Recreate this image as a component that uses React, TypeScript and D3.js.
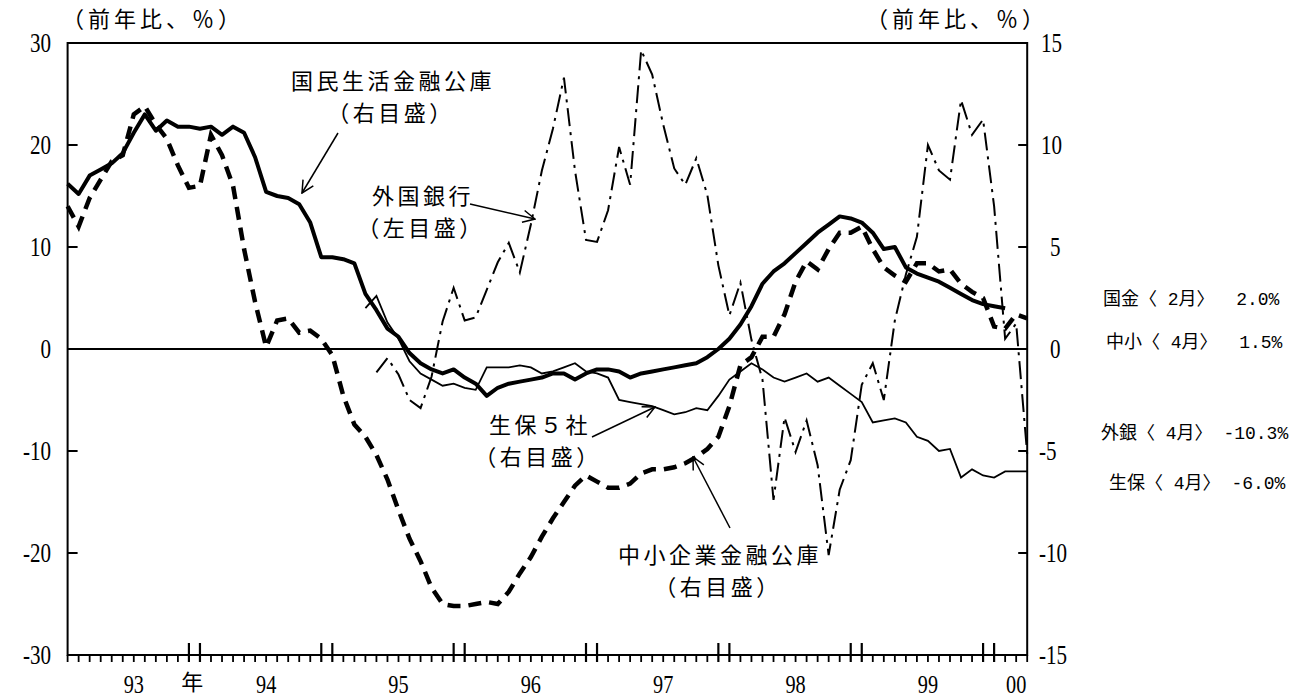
import React, { useRef, useEffect } from 'react';
import * as d3 from 'd3';

// index 0 = 1993年1月 ... index 87 = 2000年4月
const N_MONTHS = 88;

// 国民生活金融公庫 (右目盛, 前年比 %), 93/1 - 00/2
const kokumin = [
  8.1, 7.6, 8.5, 8.8, 9.1, 9.6, 10.6, 11.5, 10.7, 11.2,
  10.9, 10.9, 10.8, 10.9, 10.5, 10.9, 10.6, 9.4, 7.7, 7.5,
  7.4, 7.1, 6.2, 4.5, 4.5, 4.4, 4.2, 2.7, 1.9, 1.0,
  0.6, -0.2, -0.7, -1.0, -1.2, -1.0, -1.4, -1.7, -2.3, -1.9,
  -1.7, -1.6, -1.5, -1.4, -1.2, -1.2, -1.5, -1.2, -1.0, -1.0,
  -1.1, -1.4, -1.2, -1.1, -1.0, -0.9, -0.8, -0.7, -0.4, 0.0,
  0.5, 1.2, 2.1, 3.2, 3.8, 4.2, 4.7, 5.2, 5.7, 6.1,
  6.5, 6.4, 6.2, 5.7, 4.9, 5.0, 4.0, 3.7, 3.5, 3.3,
  3.0, 2.7, 2.4, 2.2, 2.1, 2.0
];

// 中小企業金融公庫 (右目盛), 93/1 - 00/4
const chusho = [
  7.0, 6.0, 7.4, 8.3, 9.2, 9.5, 11.5, 11.9, 11.0, 10.3,
  9.0, 7.9, 8.0, 10.5, 9.5, 8.0, 4.9, 2.3, 0.1, 1.4,
  1.5, 0.8, 0.9, 0.5, -0.3, -2.3, -3.7, -4.3, -5.2, -6.4,
  -7.9, -9.3, -10.4, -11.7, -12.5, -12.6, -12.6, -12.5, -12.4, -12.5,
  -11.9, -11.0, -10.2, -9.2, -8.3, -7.5, -6.7, -6.2, -6.5, -6.8,
  -6.8, -6.6, -6.1, -5.9, -5.9, -5.8, -5.6, -5.3, -4.9, -4.3,
  -2.8, -0.8, -0.4, 0.6, 0.6, 1.7, 3.3, 4.3, 3.9, 4.9,
  5.7, 5.7, 6.0, 4.9, 4.0, 3.6, 3.3, 4.2, 4.2, 3.8,
  3.9, 3.2, 2.8, 2.5, 1.1, 1.0, 1.7, 1.5
];

// 外国銀行 (左目盛), 95/5 - 00/4
const gaikokuStart = 28;
const gaikoku = [
  -2.3, -0.9, -2.5, -5.0, -5.8, -2.7, 2.7, 6.0, 2.8, 3.1,
  5.8, 8.5, 10.4, 7.5, 12.2, 17.5, 21.6, 26.6, 17.5, 10.7,
  10.5, 13.6, 19.8, 16.1, 29.3, 26.9, 22.0, 17.7, 16.1, 18.7,
  15.1, 8.2, 3.3, 6.5, 0.9, -3.0, -14.8, -6.7, -10.1, -7.0,
  -11.4, -20.2, -13.8, -10.9, -3.5, -1.4, -5.0, 2.8, 7.3, 11.0,
  20.0, 17.5, 16.6, 24.4, 21.0, 22.5, 14.0, 1.0, 2.5, -10.3
];

// 生保5社 (右目盛), 95/4 - 00/4
const seihoStart = 27;
const seiho = [
  2.0, 2.6, 1.3, 0.5, -0.6, -1.2, -1.5, -1.8, -1.7, -1.9,
  -2.0, -0.9, -0.9, -0.9, -0.8, -0.9, -1.2, -1.1, -0.9, -0.7,
  -1.1, -1.2, -1.4, -2.5, -2.6, -2.7, -2.8, -3.0, -3.2, -3.1,
  -2.9, -3.0, -2.3, -1.5, -1.1, -0.7, -1.0, -1.4, -1.6, -1.4,
  -1.2, -1.6, -1.4, -1.8, -2.2, -2.6, -3.6, -3.5, -3.4, -3.6,
  -4.3, -4.5, -5.0, -4.9, -6.3, -5.9, -6.2, -6.3, -6.0, -6.0,
  -6.0
];

const leftTicks = [30, 20, 10, 0, -10, -20, -30];
const rightTicks = [15, 10, 5, 0, -5, -10, -15];
const yearLabels = ['93', '94', '95', '96', '97', '98', '99', '00'];
const yearLabelIdx = [6, 18, 30, 42, 54, 66, 78, 86];

const latest = [
  '国金〈 2月〉  2.0%',
  '中小〈 4月〉  1.5%',
  '外銀〈 4月〉 -10.3%',
  '生保〈 4月〉 -6.0%'
];

const App = () => {
  const svgRef = useRef(null);

  useEffect(() => {
    const svg = d3.select(svgRef.current);
    svg.selectAll('*').remove();

    const left = 67.6, right = 1027.2, top = 43, bottom = 655;
    const x = d3.scaleLinear().domain([0, N_MONTHS - 1]).range([left, right]);
    const yL = d3.scaleLinear().domain([-30, 30]).range([bottom, top]);
    const yR = d3.scaleLinear().domain([-15, 15]).range([bottom, top]);

    const cjk = "'Noto Sans CJK JP', sans-serif";
    const num = "'Liberation Serif', serif";

    svg.append('rect').attr('width', 1306).attr('height', 698).attr('fill', '#fff');

    // arrow marker (open V)
    svg.append('defs').append('marker')
      .attr('id', 'arr')
      .attr('viewBox', '0 0 14 14')
      .attr('refX', 13).attr('refY', 7)
      .attr('markerWidth', 14).attr('markerHeight', 14)
      .attr('markerUnits', 'userSpaceOnUse')
      .attr('orient', 'auto')
      .append('path')
      .attr('d', 'M1,1 L13,7 L1,13')
      .attr('fill', 'none').attr('stroke', '#000').attr('stroke-width', 1.5);

    const toPts = (arr, start) => arr.map((v, i) => [start + i, v]);
    const mk = (y) => d3.line().x(d => x(d[0])).y(d => y(d[1]));

    // condensed serif numbers like the original
    const numText = (tx, ty, anchor, s, size = 27) => {
      svg.append('text')
        .attr('transform', `translate(${tx},${ty}) scale(0.78,1)`)
        .attr('dy', '0.35em')
        .attr('text-anchor', anchor)
        .style('font-family', num).style('font-size', `${size}px`)
        .text(s);
    };

    const g = svg.append('g');

    // 外国銀行: thin dash-dot
    g.append('path')
      .attr('d', mk(yL)(toPts(gaikoku, gaikokuStart)))
      .attr('fill', 'none').attr('stroke', '#000').attr('stroke-width', 2)
      .attr('stroke-dasharray', '18,6,3,6');

    // 生保5社: thin solid
    g.append('path')
      .attr('d', mk(yR)(toPts(seiho, seihoStart)))
      .attr('fill', 'none').attr('stroke', '#000').attr('stroke-width', 1.8);

    // 中小企業金融公庫: thick dashed
    g.append('path')
      .attr('d', mk(yR)(toPts(chusho, 0)))
      .attr('fill', 'none').attr('stroke', '#000').attr('stroke-width', 4.5)
      .attr('stroke-dasharray', '13,8');

    // 国民生活金融公庫: thick solid
    g.append('path')
      .attr('d', mk(yR)(toPts(kokumin, 0)))
      .attr('fill', 'none').attr('stroke', '#000').attr('stroke-width', 4)
      .attr('stroke-linejoin', 'round');

    // zero line
    svg.append('line')
      .attr('x1', left).attr('x2', right)
      .attr('y1', yL(0)).attr('y2', yL(0))
      .attr('stroke', '#000').attr('stroke-width', 2);

    // frame
    svg.append('rect')
      .attr('x', left).attr('y', top)
      .attr('width', right - left).attr('height', bottom - top)
      .attr('fill', 'none').attr('stroke', '#000').attr('stroke-width', 2);

    // left axis
    leftTicks.forEach(t => {
      svg.append('line')
        .attr('x1', left).attr('x2', left + 10)
        .attr('y1', yL(t)).attr('y2', yL(t))
        .attr('stroke', '#000').attr('stroke-width', 2);
      numText(51, yL(t), 'end', t < 0 ? `-${-t}` : `${t}`);
    });

    // right axis
    rightTicks.forEach(t => {
      svg.append('line')
        .attr('x1', right - 9).attr('x2', right)
        .attr('y1', yR(t)).attr('y2', yR(t))
        .attr('stroke', '#000').attr('stroke-width', 2);
      const lx = t < 0 ? 1039 : (Math.abs(t) < 10 ? 1050 : 1041);
      numText(lx, yR(t), 'start', t < 0 ? `-${-t}` : `${t}`);
    });

    // month ticks
    d3.range(N_MONTHS).forEach(i => {
      const long = i > 0 && (i % 12 === 11 || i % 12 === 0);
      svg.append('line')
        .attr('x1', x(i)).attr('x2', x(i))
        .attr('y1', long ? bottom - 12 : bottom).attr('y2', bottom + 7)
        .attr('stroke', '#000').attr('stroke-width', long ? 2.2 : 1.8);
    });

    // year labels
    yearLabels.forEach((lab, k) => {
      numText(x(yearLabelIdx[k]), 684, 'middle', lab, 26);
    });
    svg.append('text')
      .attr('x', x(11.3)).attr('y', 682)
      .attr('dy', '0.35em')
      .attr('text-anchor', 'middle')
      .style('font-family', cjk).style('font-size', '22px')
      .text('年');

    // unit titles
    [62, 866].forEach(tx => {
      svg.append('text').attr('x', tx).attr('y', 27)
        .style('font-family', cjk).style('font-size', '22px')
        .style('letter-spacing', '4px')
        .text('（前年比、％）');
    });

    // annotations (two-line labels)
    const notes = [
      { lines: ['国民生活金融公庫', '（右目盛）'], cx: 393, cy: 81, arrow: [338, 133, 302, 193] },
      { lines: ['外国銀行', '（左目盛）'], cx: 423, cy: 196, arrow: [470, 204, 535, 219] },
      { lines: ['生保５社', '（右目盛）'], cx: 540, cy: 425, arrow: [592, 437, 655, 407] },
      { lines: ['中小企業金融公庫', '（右目盛）'], cx: 720, cy: 555, arrow: [730, 528, 693, 457] }
    ];
    notes.forEach(n => {
      n.lines.forEach((s, k) => {
        svg.append('text')
          .attr('x', n.cx - k * 2)
          .attr('y', n.cy + k * 32)
          .attr('dy', '0.36em')
          .attr('text-anchor', 'middle')
          .style('font-family', cjk).style('font-size', '22px')
          .style('letter-spacing', '3.5px')
          .text(s);
      });
      const [x1, y1, x2, y2] = n.arrow;
      svg.append('line')
        .attr('x1', x1).attr('y1', y1).attr('x2', x2).attr('y2', y2)
        .attr('stroke', '#000').attr('stroke-width', 1.5)
        .attr('marker-end', 'url(#arr)');
    });

    // latest values
    const ly = [299, 342, 433, 483];
    const lx = [1103, 1106, 1101, 1109];
    latest.forEach((t, k) => {
      svg.append('text')
        .attr('x', lx[k]).attr('y', ly[k])
        .attr('dy', '0.36em')
        .style('font-family', "'Liberation Mono', 'Noto Sans CJK JP', monospace")
        .style('font-size', '18px')
        .style('white-space', 'pre')
        .attr('xml:space', 'preserve')
        .text(t);
    });
  }, []);

  return (
    <svg
      ref={svgRef}
      width={1306}
      height={698}
      style={{ position: 'absolute', left: 0, top: 0, display: 'block' }}
    />
  );
};

export default App;
